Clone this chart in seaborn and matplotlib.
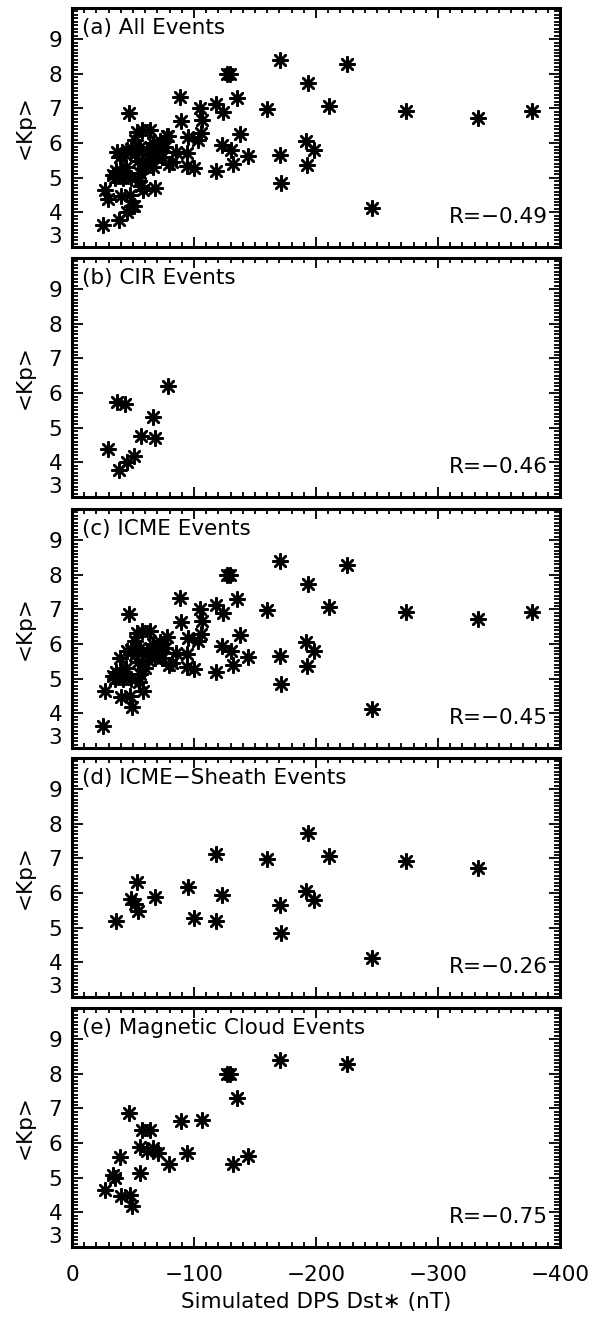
import numpy as np
import pandas as pd
import matplotlib
matplotlib.use("Agg")
import matplotlib.pyplot as plt
import seaborn as sns
from matplotlib.ticker import MultipleLocator, FixedLocator

# ---------------- data ----------------
cir_dst = [-29.6, -38.6, -44.7, -50.7, -37.0, -43.3, -56.2, -67.9, -66.6, -78.9]
cir_kp = [4.39, 3.78, 4.02, 4.18, 5.75, 5.69, 4.77, 4.71, 5.32, 6.21]

sheath_dst = [-36.2, -53.1, -48.7, -51.5, -53.7, -68.2, -94.9, -99.9, -118.2, -118.2,
              -123.2, -160.0, -170.5, -171.1, -193.3, -191.4, -198.3, -210.8, -246.2,
              -273.4, -332.7]
sheath_kp = [5.19, 6.32, 5.84, 5.69, 5.48, 5.88, 6.17, 5.29, 7.13, 5.19,
             5.95, 6.99, 5.66, 4.86, 7.73, 6.05, 5.81, 7.06, 4.13,
             6.94, 6.73]

mc_dst = [-26.8, -33.7, -35.0, -39.2, -40.5, -47.4, -48.8, -46.8, -55.6, -57.0,
          -63.8, -55.6, -61.1, -66.6, -70.7, -79.7, -89.0, -94.0, -106.3, -126.8,
          -129.6, -135.0, -131.8, -144.1, -170.7, -225.0]
mc_kp = [4.65, 5.09, 4.99, 5.59, 4.46, 4.51, 4.17, 6.87, 5.13, 6.38,
         6.38, 5.90, 5.76, 5.86, 5.71, 5.39, 6.64, 5.71, 6.67, 8.00,
         8.00, 7.30, 5.39, 5.62, 8.40, 8.28]

other_icme_dst = [-25.5, -88.5, -105.0, -124.0, -138.0, -130.0, -192.6, -377.0, -58.0,
                  -72.0, -78.0, -103.0, -106.0, -94.0, -85.0, -44.0, -62.0, -74.0,
                  -40.0, -66.0, -48.0, -57.0, -82.0, -45.0, -52.0, -60.0, -68.0,
                  -76.0, -42.0, -55.0]
other_icme_kp = [3.64, 7.32, 7.00, 6.91, 6.26, 5.80, 5.37, 6.93, 4.65,
                 6.07, 6.20, 6.10, 6.30, 5.35, 5.75, 5.30, 5.55, 5.60,
                 5.20, 6.00, 5.00, 5.75, 5.45, 5.80, 6.10, 5.30, 5.60,
                 5.90, 5.00, 4.90]

titles = ["(a) All Events", "(b) CIR Events", "(c) ICME Events",
          "(d) ICME\u2212Sheath Events", "(e) Magnetic Cloud Events"]
r_labels = ["R=\u22120.49", "R=\u22120.46", "R=\u22120.45", "R=\u22120.26", "R=\u22120.75"]
x_ticks = [0, -100, -200, -300, -400]
y_ticks = [3, 4, 5, 6, 7, 8, 9]

# derived sets
icme_dst = sheath_dst + mc_dst + other_icme_dst
icme_kp = sheath_kp + mc_kp + other_icme_kp
all_dst = cir_dst + icme_dst
all_kp = cir_kp + icme_kp

panels = [
    (all_dst, all_kp),
    (cir_dst, cir_kp),
    (icme_dst, icme_kp),
    (sheath_dst, sheath_kp),
    (mc_dst, mc_kp),
]

# ---------------- figure ----------------
sns.set_style("ticks")
plt.rcParams["font.family"] = ["DejaVu Sans"]
plt.rcParams["text.color"] = "black"
plt.rcParams["axes.labelcolor"] = "black"
plt.rcParams["xtick.color"] = "black"
plt.rcParams["ytick.color"] = "black"
plt.rcParams["axes.edgecolor"] = "black"
W, H = 592, 1317
fig = plt.figure(figsize=(W / 100, H / 100), dpi=100)

left_px, width_px, height_px = 72, 488, 239
bottoms_px = [247, 497, 748, 997, 1247]
fs = 15.5

for i, ((xs, ys), title, rlab, b) in enumerate(zip(panels, titles, r_labels, bottoms_px)):
    ax = fig.add_axes([left_px / W, 1 - b / H, width_px / W, height_px / H])
    df = pd.DataFrame({"dst": xs, "kp": ys})
    sns.scatterplot(data=df, x="dst", y="kp", ax=ax, marker=(8, 2, 0), s=110,
                    color="black", linewidth=1.8, legend=False)
    ax.set_xlim(0, -400)
    ax.set_ylim(3, 9.9)
    ax.xaxis.set_major_locator(FixedLocator(x_ticks))
    ax.xaxis.set_minor_locator(MultipleLocator(10))
    ax.yaxis.set_major_locator(FixedLocator(y_ticks))
    ax.yaxis.set_minor_locator(MultipleLocator(0.1))
    ax.tick_params(which="both", direction="in", top=True, right=True, width=1.3,
                   labelsize=fs, color="black", labelcolor="black")
    ax.tick_params(axis="y", which="major", length=8, pad=7)
    ax.tick_params(axis="y", which="minor", length=4)
    ax.tick_params(axis="x", which="major", length=7, pad=13)
    ax.tick_params(axis="x", which="minor", length=3.5)
    for sp in ax.spines.values():
        sp.set_linewidth(2.2)
        sp.set_color("black")
    ax.set_yticklabels([str(t) for t in y_ticks])
    ax.yaxis.get_major_ticks()[0].label1.set_va("bottom")
    ax.set_ylabel("<Kp>", fontsize=fs, color="black")
    ax.yaxis.set_label_coords(-0.076, 0.5)
    if i == len(panels) - 1:
        ax.set_xticklabels(["0", "\u2212100", "\u2212200", "\u2212300", "\u2212400"])
        ax.set_xlabel("Simulated DPS Dst\u2217 (nT)", fontsize=fs, color="black")
        ax.xaxis.set_label_coords(0.5, -0.19)
    else:
        ax.tick_params(axis="x", labelbottom=False)
        ax.set_xlabel("")
    ax.text(0.02, 0.915, title, transform=ax.transAxes, ha="left", va="center",
            fontsize=fs, color="black")
    ax.text(0.975, 0.125, rlab, transform=ax.transAxes, ha="right", va="center",
            fontsize=fs, color="black")

fig.savefig("out.png", dpi=100)
